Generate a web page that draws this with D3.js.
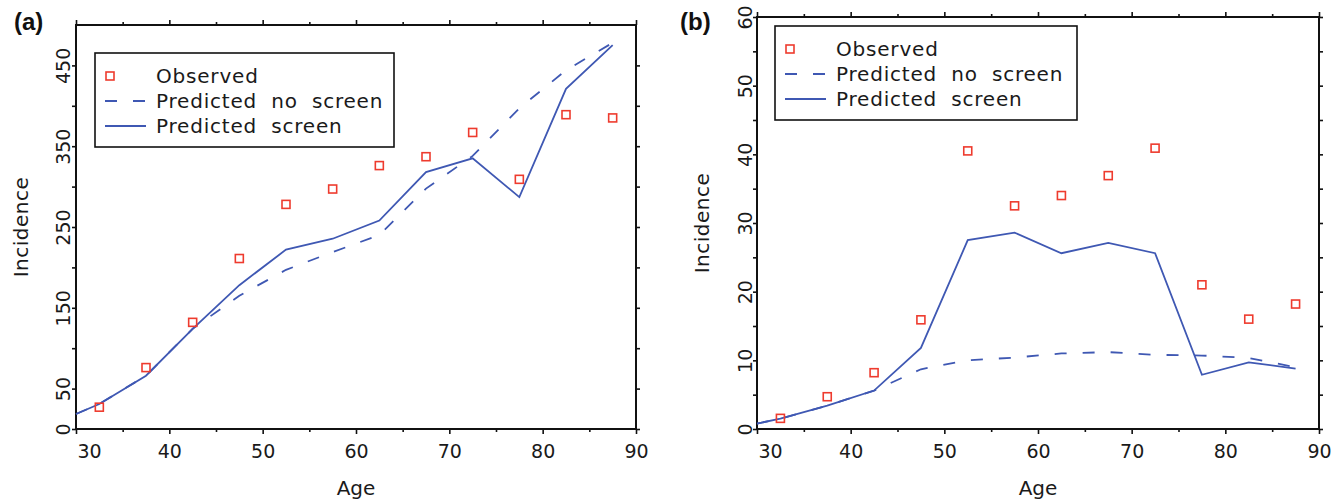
<!DOCTYPE html>
<html>
<head>
<meta charset="utf-8">
<script src="https://cdn.jsdelivr.net/npm/d3@7"></script>
<style>
  html, body { margin: 0; padding: 0; background: #fff; }
  svg { display: block; font-family: "DejaVu Sans", sans-serif; }
</style>
</head>
<body>
<svg id="chart" width="1343" height="504"></svg>
<script>
// ---- data ----
const obsAges  = [32.5, 37.5, 42.5, 47.5, 52.5, 57.5, 62.5, 67.5, 72.5, 77.5, 82.5, 87.5];
const predAges = [30, 32.5, 37.5, 42.5, 47.5, 52.5, 57.5, 62.5, 67.5, 72.5, 77.5, 82.5, 87.5];

// panel (a)
const obsA      = [27, 76, 132, 211, 278, 297, 326, 337, 367, 309, 389, 385];
const screenA   = [18.6, 31, 66, 124, 178, 222, 235.5, 258, 318, 335, 287, 421, 475];
const noScreenA = [18.6, 31, 66, 124, 165, 197, 219, 240, 297.5, 338, 397, 444, 478];

// panel (b)
const obsB      = [1.55, 4.7, 8.2, 15.9, 40.5, 32.5, 34.0, 36.9, 40.9, 21.0, 16.0, 18.2];
const screenB   = [0.8, 1.5, 3.4, 5.6, 11.8, 27.5, 28.6, 25.6, 27.1, 25.6, 7.9, 9.7, 8.8];
const noScreenB = [0.8, 1.5, 3.4, 5.6, 8.7, 10.0, 10.4, 11.0, 11.2, 10.8, 10.7, 10.35, 9.0];

// ticks
const xTicks      = [30, 35, 40, 45, 50, 55, 60, 65, 70, 75, 80, 85, 90];
const xTickLabels = [30, 40, 50, 60, 70, 80, 90];
const yTicksA      = [0, 50, 100, 150, 200, 250, 300, 350, 400, 450];
const yTickLabelsA = [0, 50, 150, 250, 350, 450];
const yTicksB      = [0, 5, 10, 15, 20, 25, 30, 35, 40, 45, 50, 55, 60];
const yTickLabelsB = [0, 10, 20, 30, 40, 50, 60];

const legendLabels = ['Observed', 'Predicted no screen', 'Predicted screen'];

const RED  = '#ee3b2e';
const BLUE = '#3f58b3';
const DASH = '12,16';

const svg = d3.select('#chart');

function drawPanel(cfg) {
  const { left, right, top, bottom } = cfg.box;
  const x = d3.scaleLinear().domain([30, 90]).range([left, right]);
  const y = d3.scaleLinear().domain(cfg.yDomain).range([bottom, top]);
  const g = svg.append('g');

  // ---- axes: ticks outward on all four sides ----
  const majorX = v => v % 10 === 0;
  const fmtX = v => xTickLabels.includes(v) ? String(v) : '';
  const fmtY = v => cfg.yLabels.includes(v) ? String(v) : '';

  const bx = g.append('g')
    .attr('transform', `translate(0,${bottom})`)
    .call(d3.axisBottom(x).tickValues(xTicks).tickSize(5).tickSizeOuter(0).tickFormat(fmtX));
  bx.selectAll('.tick line').attr('y2', d => majorX(d) ? 5 : 3);
  bx.selectAll('.tick text')
    .attr('y', 29).attr('dy', null)
    .attr('text-anchor', d => d === 30 ? 'start' : 'middle')
    .attr('dx', d => d === 30 ? 1 : 0);

  const tx = g.append('g')
    .attr('transform', `translate(0,${top})`)
    .call(d3.axisTop(x).tickValues(xTicks).tickSize(5).tickSizeOuter(0).tickFormat(''));
  tx.selectAll('.tick line').attr('y2', d => majorX(d) ? -5 : -3);

  const ly = g.append('g')
    .attr('transform', `translate(${left},0)`)
    .call(d3.axisLeft(y).tickValues(cfg.yTicks).tickSize(4).tickSizeOuter(0).tickFormat(fmtY));
  ly.selectAll('.tick text')
    .attr('x', null).attr('dy', null)
    .attr('text-anchor', 'middle')
    .attr('transform', `translate(${-cfg.yLabelGap},0) rotate(-90)`);

  g.append('g')
    .attr('transform', `translate(${right},0)`)
    .call(d3.axisRight(y).tickValues(cfg.yTicks).tickSize(4).tickSizeOuter(0).tickFormat(''));

  g.selectAll('.domain').remove();
  g.selectAll('.tick line').attr('stroke', '#111').attr('stroke-width', 1.6);
  g.selectAll('.tick text')
    .attr('font-family', '"DejaVu Sans", sans-serif')
    .attr('font-size', 19)
    .attr('fill', '#1a1a1a');

  // frame
  g.append('rect')
    .attr('x', left).attr('y', top)
    .attr('width', right - left).attr('height', bottom - top)
    .attr('fill', 'none').attr('stroke', '#111').attr('stroke-width', 2);

  // ---- lines ----
  const line = d3.line().x(d => x(d[0])).y(d => y(d[1]));
  g.append('path')
    .datum(predAges.map((a, i) => [a, cfg.noScreen[i]]))
    .attr('d', line)
    .attr('fill', 'none').attr('stroke', BLUE).attr('stroke-width', 1.8)
    .attr('stroke-dasharray', DASH);
  g.append('path')
    .datum(predAges.map((a, i) => [a, cfg.screen[i]]))
    .attr('d', line)
    .attr('fill', 'none').attr('stroke', BLUE).attr('stroke-width', 1.8);

  // ---- observed squares ----
  g.selectAll('.obs')
    .data(obsAges.map((a, i) => [a, cfg.obs[i]]))
    .join('rect')
    .attr('class', 'obs')
    .attr('x', d => x(d[0]) - 4).attr('y', d => y(d[1]) - 4)
    .attr('width', 8).attr('height', 8)
    .attr('fill', 'none').attr('stroke', RED).attr('stroke-width', 1.6);

  // ---- legend ----
  const L = cfg.legend;
  const lg = g.append('g').attr('transform', `translate(${L.x},${L.y})`);
  lg.append('rect')
    .attr('width', L.w).attr('height', 94)
    .attr('fill', '#fff').attr('stroke', '#111').attr('stroke-width', 1.6);
  const rows = [23, 48, 73];
  lg.append('rect')
    .attr('x', 11).attr('y', rows[0] - 4).attr('width', 8).attr('height', 8)
    .attr('fill', 'none').attr('stroke', RED).attr('stroke-width', 1.6);
  lg.append('line')
    .attr('x1', 10).attr('x2', 51).attr('y1', rows[1]).attr('y2', rows[1])
    .attr('stroke', BLUE).attr('stroke-width', 1.8).attr('stroke-dasharray', DASH);
  lg.append('line')
    .attr('x1', 10).attr('x2', 51).attr('y1', rows[2]).attr('y2', rows[2])
    .attr('stroke', BLUE).attr('stroke-width', 1.8);
  lg.selectAll('text.lab')
    .data(legendLabels)
    .join('text')
    .attr('class', 'lab')
    .attr('x', 61).attr('y', (d, i) => rows[i]).attr('dy', '0.36em')
    .attr('font-size', 20).attr('fill', '#1a1a1a')
    .attr('letter-spacing', 0.8).attr('word-spacing', 7)
    .text(d => d);

  // ---- titles ----
  g.append('text')
    .attr('x', (left + right) / 2).attr('y', 495)
    .attr('text-anchor', 'middle').attr('font-size', 20).attr('fill', '#1a1a1a')
    .text('Age');
  g.append('text')
    .attr('transform', `translate(${cfg.yTitleX},${(top + bottom) / 2}) rotate(-90)`)
    .attr('text-anchor', 'middle').attr('font-size', 20).attr('fill', '#1a1a1a')
    .attr('letter-spacing', 0.5)
    .text('Incidence');
  g.append('text')
    .attr('x', cfg.tagX).attr('y', 30)
    .attr('font-family', '"Liberation Sans", Arial, sans-serif')
    .attr('font-weight', 'bold').attr('font-size', 24).attr('fill', '#111')
    .text(cfg.tag);
}

drawPanel({
  tag: '(a)', tagX: 14,
  box: { left: 76, right: 636, top: 25, bottom: 429 },
  yDomain: [0, 500], yTicks: yTicksA, yLabels: yTickLabelsA, yLabelGap: 6,
  yTitleX: 28,
  obs: obsA, screen: screenA, noScreen: noScreenA,
  legend: { x: 95, y: 53, w: 299 }
});

drawPanel({
  tag: '(b)', tagX: 680,
  box: { left: 757, right: 1319, top: 17, bottom: 429 },
  yDomain: [0, 60], yTicks: yTicksB, yLabels: yTickLabelsB, yLabelGap: 5,
  yTitleX: 709,
  obs: obsB, screen: screenB, noScreen: noScreenB,
  legend: { x: 775, y: 26, w: 302 }
});
</script>
</body>
</html>
